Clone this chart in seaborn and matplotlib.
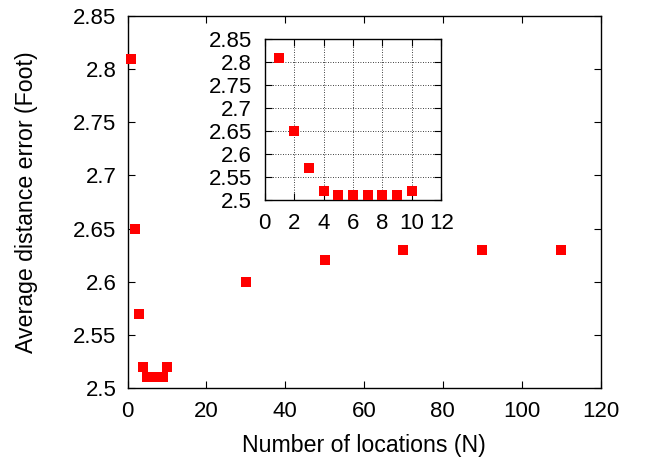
import numpy as np
import pandas as pd
import matplotlib
matplotlib.use("Agg")
import matplotlib.pyplot as plt
import seaborn as sns

# data
n_locations = [1, 2, 3, 4, 5, 6, 7, 8, 9, 10, 30, 50, 70, 90, 110]
avg_error = [2.81, 2.65, 2.57, 2.52, 2.51, 2.51, 2.51, 2.51, 2.51, 2.52,
             2.60, 2.62, 2.63, 2.63, 2.63]

x_ticks = [0, 20, 40, 60, 80, 100, 120]
y_ticks = [2.5, 2.55, 2.6, 2.65, 2.7, 2.75, 2.8, 2.85]
inset_x_ticks = [0, 2, 4, 6, 8, 10, 12]

df = pd.DataFrame({"N": n_locations, "err": avg_error})
df_small = df[df["N"] <= 12]

sns.set_style("ticks")
plt.rcParams['font.family'] = ['Liberation Sans', 'DejaVu Sans']
plt.rcParams['font.size'] = 16
plt.rcParams['text.color'] = 'black'
plt.rcParams['axes.labelcolor'] = 'black'

FS = 16
LABEL_FS = 16.7


def style_axis(ax):
    ax.tick_params(direction="in", top=True, right=True, length=5, width=0.8,
                   labelsize=FS, colors="black", pad=9)
    for sp in ax.spines.values():
        sp.set_visible(True)
        sp.set_linewidth(1.0)
        sp.set_color("black")
    ax.set_yticks(y_ticks)
    ax.set_yticklabels([f"{v:g}" for v in y_ticks])


fig = plt.figure(figsize=(6.52, 4.61), dpi=100)
ax = fig.add_axes([127.5 / 652, 1 - 388 / 461, 473 / 652, 372 / 461])
sns.scatterplot(data=df, x="N", y="err", marker="s", color="#ff0000", s=55,
                linewidth=0, ax=ax, clip_on=False, zorder=3)
ax.set_xlim(0, 120)
ax.set_ylim(2.5, 2.85)
ax.set_xticks(x_ticks)
style_axis(ax)
ax.tick_params(axis="y", pad=8)
ax.set_xlabel("Number of locations (N)", fontsize=LABEL_FS, labelpad=9, color="black")
ax.set_ylabel("Average distance error (Foot)", fontsize=LABEL_FS, labelpad=25, color="black")

# inset
axi = fig.add_axes([264.5 / 652, 1 - 200 / 461, 177 / 652, 160.7 / 461])
sns.scatterplot(data=df_small, x="N", y="err", marker="s", color="#ff0000", s=55,
                linewidth=0, ax=axi, clip_on=False, zorder=3)
axi.set_xlim(0, 12)
axi.set_ylim(2.5, 2.85)
axi.set_xticks(inset_x_ticks)
style_axis(axi)
axi.tick_params(axis="y", pad=9)
axi.grid(True, linestyle=(0, (1, 2)), color="black", linewidth=0.6)
axi.set_xlabel("")
axi.set_ylabel("")

fig.savefig("out.png", dpi=100)
